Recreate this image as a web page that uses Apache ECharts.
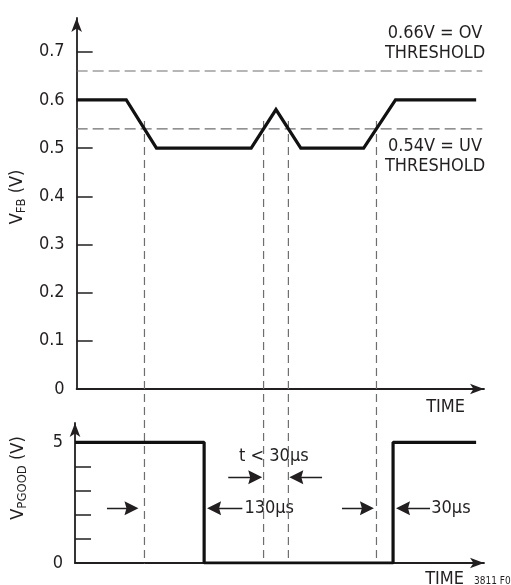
<!DOCTYPE html>
<html><head><meta charset="utf-8">
<script src="https://cdn.jsdelivr.net/npm/echarts@6/dist/echarts.min.js"></script>
<style>html,body{margin:0;padding:0;background:#fff}#c{width:511px;height:585px}</style>
</head><body><div id="c"></div>
<script>
const FONT = '"Liberation Sans Narrow","DejaVu Sans Condensed",Roboto,sans-serif';
const INK = '#231f20';
const GRAY = '#6d6e71';

// ---- data (time in arbitrary units) ----
const fbTime = [0, 12.0, 19.3, 42.2, 48.2, 54.2, 69.4, 77.1, 96.6];
const fbVolt = [0.6, 0.6, 0.5, 0.5, 0.58, 0.5, 0.5, 0.6, 0.6];
const pgTime = [0, 31.1, 31.1, 76.6, 76.6, 96.6];
const pgVolt = [5, 5, 0, 0, 5, 5];
const thresholds = [0.66, 0.54];
const crossTimes = [16.4, 45.2, 51.2, 72.5];
const fbTicks = [0.1, 0.2, 0.3, 0.4, 0.5, 0.6, 0.7];
const fbTickLabels = [0, 0.1, 0.2, 0.3, 0.4, 0.5, 0.6, 0.7];
const pgTicks = [1, 2, 3, 4];
const pgTickLabels = [0, 5];
// annotation arrows in bottom panel: [fromTime, toTime, volts]
const arrows = [
  [7.7, 13.6, 2.27],
  [40.3, 33.5, 2.27],
  [36.9, 43.4, 3.55],
  [59.5, 53.3, 3.55],
  [64.3, 70.3, 2.27],
  [85.5, 79.0, 2.27]
];
// annotation texts: [time, volts, text, anchor]
const notes = [
  [40.8, 2.27, '130µs', 'right'],
  [85.8, 2.27, '30µs', 'right'],
  [47.9, 4.42, 't < 30µs', 'inside']
];
const dashTop = 0.556, dashBottom = -0.362;

const chart = echarts.init(document.getElementById('c'), null, {renderer: 'canvas'});
const txt = {fontFamily: FONT, fontSize: 18, color: INK};

const series = [];
thresholds.forEach(th => series.push({
  type: 'line', xAxisIndex: 0, yAxisIndex: 0, symbol: 'none', silent: true,
  data: [[0, th], [98.1, th]],
  lineStyle: {color: GRAY, width: 1.2, type: [11, 5]}
}));
crossTimes.forEach(t => series.push({
  type: 'line', xAxisIndex: 0, yAxisIndex: 0, symbol: 'none', silent: true, clip: false,
  data: [[t, dashTop], [t, dashBottom]],
  lineStyle: {color: GRAY, width: 1.2, type: [8, 5]}
}));
series.push({
  type: 'line', xAxisIndex: 0, yAxisIndex: 0, symbol: 'none', silent: true,
  data: fbTime.map((t, i) => [t, fbVolt[i]]),
  lineStyle: {color: '#111', width: 3.2, join: 'miter'}
});
series.push({
  type: 'line', xAxisIndex: 1, yAxisIndex: 1, symbol: 'none', silent: true,
  data: pgTime.map((t, i) => [t, pgVolt[i]]),
  lineStyle: {color: '#111', width: 3.2}
});
series.push({
  type: 'lines', coordinateSystem: 'cartesian2d', xAxisIndex: 1, yAxisIndex: 1, silent: true,
  symbol: ['none', 'path://M0,0 L5,14 L0,12 L-5,14 Z'], symbolSize: [7, 14],
  lineStyle: {color: INK, width: 1.3, opacity: 1, curveness: 0},
  data: arrows.map(a => ({coords: [[a[0], a[2]], [a[1], a[2]]]}))
});
series.push({
  type: 'scatter', xAxisIndex: 1, yAxisIndex: 1, symbolSize: 0, silent: true,
  itemStyle: {opacity: 1},
  data: notes.map(n => ({
    value: [n[0], n[1]],
    label: {show: true, position: n[3], distance: 0, formatter: n[2], ...txt}
  }))
});

const yName = (main, sub) => `{m|${main}}{s|${sub}}{m| (V)}`;
const nameRich = {
  m: {fontFamily: FONT, fontSize: 18, color: INK, lineHeight: 22},
  s: {fontFamily: FONT, fontSize: 13, color: INK, lineHeight: 13, verticalAlign: 'bottom'}
};

const axisLineStyle = {show: true, symbol: ['none', 'arrow'], symbolSize: [8, 14],
  lineStyle: {color: INK, width: 1.8}};

chart.setOption({
  animation: false,
  backgroundColor: '#fff',
  grid: [
    {left: 75, right: 27, top: 18, bottom: 196},
    {left: 75, right: 27, top: 423, bottom: 22}
  ],
  xAxis: [0, 1].map(i => ({
    type: 'value', gridIndex: i, min: 0, max: 98.5,
    axisLine: axisLineStyle, axisTick: {show: false}, axisLabel: {show: false},
    splitLine: {show: false}
  })),
  yAxis: [
    {
      type: 'value', gridIndex: 0, min: 0, max: 0.77,
      axisLine: axisLineStyle,
      axisTick: {show: true, inside: true, length: 16, customValues: fbTicks,
        lineStyle: {color: INK, width: 1.5}},
      axisLabel: {show: true, customValues: fbTickLabels, margin: 12, ...txt,
        formatter: v => String(+v.toFixed(1))},
      splitLine: {show: false},
      name: yName('V', 'FB'), nameLocation: 'middle', nameGap: 46, nameRotate: 90,
      nameTextStyle: {rich: nameRich, padding: [0, 0, 0, 13]}
    },
    {
      type: 'value', gridIndex: 1, min: 0, max: 5.8,
      axisLine: axisLineStyle,
      axisTick: {show: true, inside: true, length: 16, customValues: pgTicks,
        lineStyle: {color: INK, width: 1.5}},
      axisLabel: {show: true, customValues: pgTickLabels, margin: 12, ...txt},
      splitLine: {show: false},
      name: yName('V', 'PGOOD'), nameLocation: 'middle', nameGap: 46, nameRotate: 90,
      nameTextStyle: {rich: nameRich, padding: [0, 0, 0, 30]}
    }
  ],
  graphic: [
    {type: 'text', x: 435, y: 43.5, style: {text: '0.66V = OV\nTHRESHOLD', font: `18px ${FONT}`,
      fill: INK, align: 'center', verticalAlign: 'middle', lineHeight: 20}},
    {type: 'text', x: 435, y: 156.5, style: {text: '0.54V = UV\nTHRESHOLD', font: `18px ${FONT}`,
      fill: INK, align: 'center', verticalAlign: 'middle', lineHeight: 20}},
    {type: 'text', x: 465, y: 407, style: {text: 'TIME', font: `18px ${FONT}`, fill: INK,
      align: 'right', verticalAlign: 'middle'}},
    {type: 'text', x: 464, y: 579, style: {text: 'TIME', font: `18px ${FONT}`, fill: INK,
      align: 'right', verticalAlign: 'middle'}},
    {type: 'text', x: 474, y: 581, style: {text: '3811 F07', font: `10px ${FONT}`, fill: INK,
      align: 'left', verticalAlign: 'middle'}}
  ],
  series
});
</script></body></html>
